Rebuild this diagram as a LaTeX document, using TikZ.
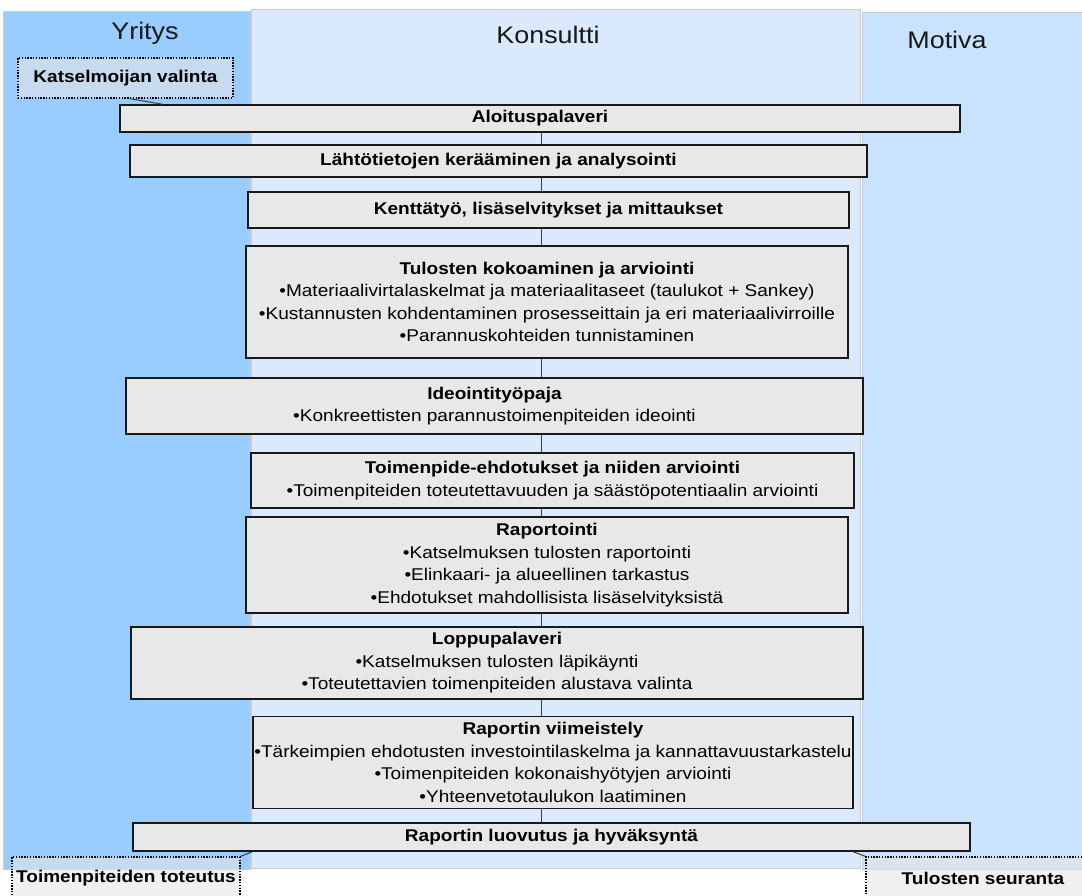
\documentclass[tikz,border=0pt]{standalone}
\usepackage{fontspec}
\setmainfont{Liberation Sans}[FakeStretch=1.12]
\usetikzlibrary{calc}
\definecolor{colA}{RGB}{153,204,255}
\definecolor{colB}{RGB}{218,234,252}
\definecolor{colC}{RGB}{201,227,255}
\definecolor{boxfill}{RGB}{232,232,232}
\definecolor{notefill}{RGB}{230,230,230}
\definecolor{linkcol}{RGB}{60,60,60}
\begin{document}
\begin{tikzpicture}[x=1pt,y=-1pt,
  lane/.style={draw=gray!40,line width=0.8pt},
  lanehead/.style={font=\fontsize{24}{28}\selectfont,text=black!90},
  stepbox/.style={draw=black!90,line width=1.6pt,fill=boxfill,inner sep=0pt,
    align=center,font=\fontsize{17}{22.6}\selectfont},
  notebox/.style={draw=black,line width=1.3pt,dash pattern=on 1.4pt off 1.4pt,
    fill=notefill,fill opacity=0.6,text opacity=1,draw opacity=1,inner sep=0pt,
    align=center,font=\fontsize{17}{22.6}\selectfont\bfseries},
  link/.style={draw=linkcol,line width=1pt}]
\useasboundingbox (0,0) rectangle (1082,896);
\clip (0,0) rectangle (1082,896);

% swimlanes
\fill[white] (0,0) rectangle (1082,896);
\draw[lane,fill=colA] (3,11) rectangle (250,869);
\draw[lane,fill=colB] (251,9) rectangle (860,868);
\draw[lane,fill=colC] (862,12) rectangle (1090,869);
\node[lanehead] (hA) at (145,33) {Yritys};
\node[lanehead] (hB) at (548,35) {Konsultti};
\node[lanehead] (hC) at (947,40) {Motiva};

\coordinate (spine) at (541,0);

% process steps
\node[stepbox,minimum width=840pt,minimum height=27pt] (b1) at (540,118.5)
  {\textbf{Aloituspalaveri}};
\node[stepbox,minimum width=737pt,minimum height=32pt] (b2) at (498.5,161)
  {\textbf{Lähtötietojen kerääminen ja analysointi}};
\node[stepbox,minimum width=601pt,minimum height=36pt] (b3) at (548.5,210)
  {\textbf{Kenttätyö, lisäselvitykset ja mittaukset}};
\node[stepbox,minimum width=602pt,minimum height=112pt] (b4) at (547,302)
  {\textbf{Tulosten kokoaminen ja arviointi}\\
   •Materiaalivirtalaskelmat ja materiaalitaseet (taulukot + Sankey)\\
   •Kustannusten kohdentaminen prosesseittain ja eri materiaalivirroille\\
   •Parannuskohteiden tunnistaminen};
\node[stepbox,minimum width=737pt,minimum height=56pt] (b5) at (494.5,406)
  {\textbf{Ideointityöpaja}\\
   •Konkreettisten parannustoimenpiteiden ideointi};
\node[stepbox,minimum width=603pt,minimum height=55pt] (b6) at (552.5,480.5)
  {\textbf{Toimenpide-ehdotukset ja niiden arviointi}\\
   •Toimenpiteiden toteutettavuuden ja säästöpotentiaalin arviointi};
\node[stepbox,minimum width=602pt,minimum height=96pt] (b7) at (547,565)
  {\textbf{Raportointi}\\
   •Katselmuksen tulosten raportointi\\
   •Elinkaari- ja alueellinen tarkastus\\
   •Ehdotukset mahdollisista lisäselvityksistä};
\node[stepbox,minimum width=732pt,minimum height=72pt] (b8) at (497,663)
  {\textbf{Loppupalaveri}\\
   •Katselmuksen tulosten läpikäynti\\
   •Toteutettavien toimenpiteiden alustava valinta};
\node[stepbox,minimum width=600pt,minimum height=92pt] (b9) at (553,762.5)
  {\textbf{Raportin viimeistely}\\
   •Tärkeimpien ehdotusten investointilaskelma ja kannattavuustarkastelu\\
   •Toimenpiteiden kokonaishyötyjen arviointi\\
   •Yhteenvetotaulukon laatiminen};
\node[stepbox,minimum width=837pt,minimum height=28pt] (b10) at (551.5,837)
  {\textbf{Raportin luovutus ja hyväksyntä}};

% company / agency tasks outside the consultant's flow
\node[notebox,minimum width=215pt,minimum height=40pt] (kv) at (125.5,78)
  {Katselmoijan valinta};
\node[notebox,minimum width=228pt,minimum height=42pt] (tt) at (126,878)
  {Toimenpiteiden toteutus};
\node[notebox,minimum width=234pt,minimum height=42pt] (ts) at (983,878)
  {Tulosten seuranta};

% flow links
\foreach \a/\b in {b1/b2,b2/b3,b3/b4,b4/b5,b5/b6,b6/b7,b7/b8,b8/b9,b9/b10}
  \draw[link] (\a.south -| spine) -- (\b.north -| spine);
\draw[link] ($(kv.south west)!0.52!(kv.south east)$) -- ($(b1.north west)!0.051!(b1.north east)$);
\draw[link] ($(b10.south west)!0.143!(b10.south east)$) -- (tt.north east);
\draw[link] ($(b10.south west)!0.86!(b10.south east)$) -- (ts.north west);
\end{tikzpicture}
\end{document}
